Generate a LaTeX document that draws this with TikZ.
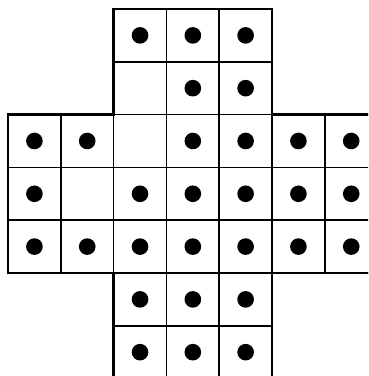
\documentclass[tikz,border=0pt]{standalone}
\usetikzlibrary{positioning}
\tikzset{
  cell/.style={draw=black,line width=.9pt},
  rim/.style={draw=black,line width=1.4pt,line join=miter},
  peg/.style={circle,fill=black,minimum size=3.15mm,inner sep=0pt},
}

\begin{document}
\begin{tikzpicture}
\clip (-0.152,0.049) rectangle (6.818,7.170);
% holes of the board
\draw[cell] (2,0) grid (5,7);
\draw[cell] (0,2) grid (7,5);
\draw[rim] (2,0) -- (5,0) -- (5,2) -- (7,2) -- (7,5) -- (5,5) -- (5,7)
  -- (2,7) -- (2,5) -- (0,5) -- (0,2) -- (2,2) -- cycle;
% pegs, as column/row with row 0 on top
\foreach \c/\r in {2/0,3/0,4/0, 3/1,4/1,
    0/2,1/2,3/2,4/2,5/2,6/2, 0/3,2/3,3/3,4/3,5/3,6/3,
    0/4,1/4,2/4,3/4,4/4,5/4,6/4, 2/5,3/5,4/5, 2/6,3/6,4/6}
  \node[peg] (p\c\r) at ({\c+.5},{6.5-\r}) {};
\end{tikzpicture}
\end{document}
